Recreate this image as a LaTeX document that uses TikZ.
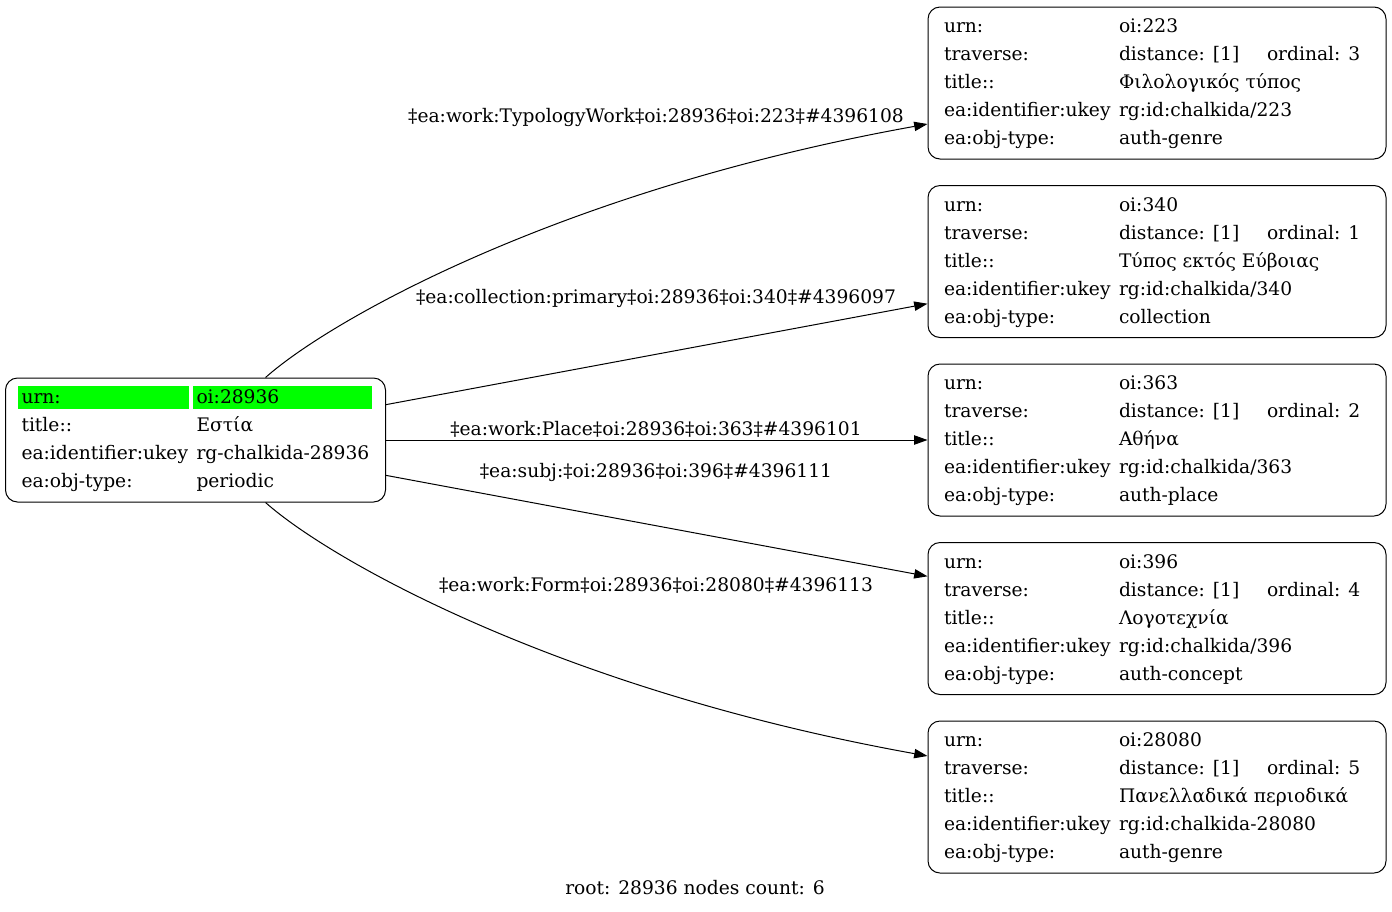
\documentclass[tikz,border=0pt]{standalone}
\usepackage{fontspec}
\setmainfont{DejaVu Serif}
\usetikzlibrary{arrows.meta,backgrounds,positioning}
\definecolor{urngreen}{HTML}{00FF00}
\tikzset{main node/.style={draw,line width=0.75pt,rounded corners=9pt,inner xsep=12pt,inner ysep=4.5pt,font=\fontsize{14pt}{21pt}\selectfont},
         edge label/.style={inner sep=0pt,font=\fontsize{14pt}{21pt}\selectfont},
         link/.style={line width=0.75pt,-{Triangle[length=10pt,width=7pt]}},
}
\newcommand{\recbox}[5]{%
\begin{tabular}{@{}p{131.25pt}@{}p{188.25pt}@{}}
urn: & #1\\
traverse: & \makebox[111pt][l]{distance: [1]}ordinal: #2\\
title:: & #3\\
ea:identifier:ukey & #4\\
ea:obj-type: & #5
\end{tabular}}

\begin{document}
\begin{tikzpicture}[x=0.75pt,y=-0.75pt]
\useasboundingbox (0,0) rectangle (1392,911);

% root record
\node[main node] (r) at (195.5,440) {%
\begin{tabular}{@{}p{131.25pt}@{}p{129.75pt}@{}}
urn: & oi:28936\\
title:: & Εστία\\
ea:identifier:ukey & rg-chalkida-28936\\
ea:obj-type: & periodic
\end{tabular}};
\begin{scope}[on background layer]
\fill[urngreen] ([shift={(13,8)}]r.north west) rectangle ([shift={(184,31)}]r.north west);
\fill[urngreen] ([shift={(188,8)}]r.north west) rectangle ([shift={(367,31)}]r.north west);
\end{scope}

% linked records
\node[main node] (n1) at (1157,83) {\recbox{oi:223}{3}{Φιλολογικός τύπος}{rg:id:chalkida/223}{auth-genre}};
\node[main node] (n2) at (1157,261.5) {\recbox{oi:340}{1}{Τύπος εκτός Εύβοιας}{rg:id:chalkida/340}{collection}};
\node[main node] (n3) at (1157,440) {\recbox{oi:363}{2}{Αθήνα}{rg:id:chalkida/363}{auth-place}};
\node[main node] (n4) at (1157,618.5) {\recbox{oi:396}{4}{Λογοτεχνία}{rg:id:chalkida/396}{auth-concept}};
\node[main node] (n5) at (1157,797) {\recbox{oi:28080}{5}{Πανελλαδικά περιοδικά}{rg:id:chalkida-28080}{auth-genre}};

\draw[link] (r) .. controls (330,320) and (560,190) .. (n1);
\draw[link] (r) -- (n2);
\draw[link] (r) -- (n3);
\draw[link] (r) -- (n4);
\draw[link] (r) .. controls (330,560) and (560,690) .. (n5);

\node[edge label] (l1) at (656,117) {‡ea:work:TypologyWork‡oi:28936‡oi:223‡\#4396108};
\node[edge label] (l2) at (656,298) {‡ea:collection:primary‡oi:28936‡oi:340‡\#4396097};
\node[edge label] (l3) at (656,429) {‡ea:work:Place‡oi:28936‡oi:363‡\#4396101};
\node[edge label] (l4) at (656,472) {‡ea:subj:‡oi:28936‡oi:396‡\#4396111};
\node[edge label] (l5) at (656,585) {‡ea:work:Form‡oi:28936‡oi:28080‡\#4396113};

\node[edge label] (foot) at (695,888) {root: 28936 nodes count: 6};
\end{tikzpicture}
\end{document}
